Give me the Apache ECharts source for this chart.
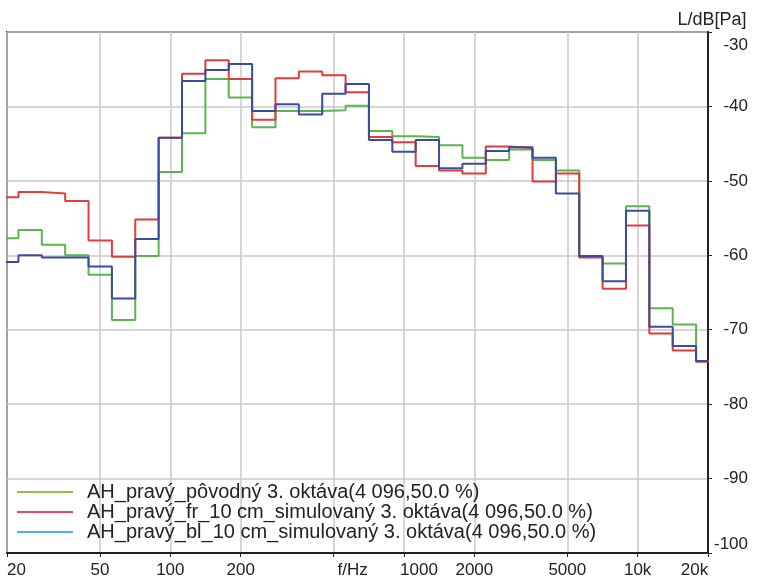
<!DOCTYPE html>
<html><head><meta charset="utf-8">
<script src="https://cdn.jsdelivr.net/npm/echarts@6/dist/echarts.min.js"></script>
<style>html,body{margin:0;padding:0;background:#fff}#c{width:759px;height:579px}</style>
</head><body><div id="c"></div>
<script>
// third-octave band centres (Hz)
const bands = [20,25,31.5,40,50,63,80,100,125,160,200,250,315,400,500,630,800,1000,1250,1600,2000,2500,3150,4000,5000,6300,8000,10000,12500,16000,20000];
const seriesNames = [
  'AH_pravý_pôvodný 3. oktáva(4 096,50.0 %)',
  'AH_pravý_fr_10 cm_simulovaný 3. oktáva(4 096,50.0 %)',
  'AH_pravý_bl_10 cm_simulovaný 3. oktáva(4 096,50.0 %)'
];
const povodny = [-57.7,-56.6,-58.6,-60.0,-62.6,-68.7,-60.1,-48.8,-43.6,-36.3,-38.8,-42.8,-40.6,-40.6,-40.5,-39.9,-43.3,-44.0,-44.1,-45.2,-46.9,-47.2,-45.8,-47.2,-48.6,-60.2,-61.1,-53.4,-67.1,-69.3,-74.2];
const frSim   = [-52.2,-51.5,-51.7,-52.7,-58.0,-60.2,-55.2,-44.2,-35.6,-33.8,-36.3,-41.8,-36.2,-35.3,-35.8,-38.1,-44.1,-44.8,-48.0,-48.6,-49.0,-45.4,-45.6,-50.1,-49.0,-60.3,-64.5,-56.0,-70.5,-72.8,-74.3];
const blSim   = [-60.9,-60.0,-60.3,-60.3,-61.5,-65.8,-57.8,-44.2,-36.6,-35.1,-34.3,-40.6,-39.7,-41.1,-38.3,-37.0,-44.5,-46.1,-44.5,-48.3,-47.7,-46.0,-45.5,-46.9,-51.7,-60.1,-63.5,-54.0,-69.6,-72.2,-74.2];
const xTickValues = [20,50,100,200,500,1000,2000,5000,10000,20000];
const xTickLabels = ['20','50','100','200','f/Hz','1000','2000','5000','10k','20k'];
const yMin = -100, yMax = -30, yStep = 10;

const lineColors = ['#5cb44c','#e23b3b','#3a4c9e'];
const legendColors = ['#8cc43e','#e24c5c','#4ab4dc'];

function stepData(vals){
  const pts = [];
  bands.forEach((f,i)=>{
    const c = Math.round(Math.log10(f)*10)/10;
    pts.push([c-0.05, vals[i]]);
  });
  const lastC = Math.round(Math.log10(bands[bands.length-1])*10)/10;
  pts.push([lastC+0.05, vals[vals.length-1]]);
  return pts;
}
const xLogTicks = xTickValues.map(v=>Math.log10(v));
const FONT = "'Liberation Sans', Arial, sans-serif";
const TXT = '#222';

const chart = echarts.init(document.getElementById('c'), null, {renderer:'canvas'});
chart.setOption({
  animation:false,
  backgroundColor:'#fff',
  textStyle:{fontFamily:FONT},
  grid:{left:7, right:51, top:32, bottom:23, show:true, borderColor:'#333', borderWidth:2, backgroundColor:'transparent'},
  xAxis:{
    type:'value', min:Math.log10(20), max:Math.log10(20000),
    axisLine:{show:true, onZero:false, lineStyle:{color:'#222', width:2}},
    axisTick:{show:true, customValues:xLogTicks, length:4, lineStyle:{color:'#222'}},
    axisLabel:{
      customValues:xLogTicks, fontSize:17, color:TXT, margin:9, fontFamily:FONT,
      formatter:(v)=>{
        let idx = 0, best = 1e9;
        xLogTicks.forEach((t,i)=>{ const d=Math.abs(t-v); if(d<best){best=d; idx=i;} });
        const s = xTickLabels[idx];
        if(idx===0) return '{l|'+s+'}';
        if(s==='f/Hz') return '{f|'+s+'}';
        if(s==='1000') return '{k|'+s+'}';
        if(idx===xTickLabels.length-1) return '{r|'+s+'}';
        return s;
      },
      rich:{
        l:{fontSize:17, color:TXT, fontFamily:FONT, padding:[0,0,0,19]},
        f:{fontSize:17, color:TXT, fontFamily:FONT, padding:[0,0,0,38]},
        k:{fontSize:17, color:TXT, fontFamily:FONT, padding:[0,0,0,30]},
        r:{fontSize:17, color:TXT, fontFamily:FONT, padding:[0,27,0,0]}
      }
    },
    splitLine:{show:true, lineStyle:{color:'#c8c8c8', width:1.5}}
  },
  yAxis:{
    type:'value', position:'right', min:yMin, max:yMax, interval:yStep,
    name:'L/dB[Pa]', nameLocation:'end', nameGap:3,
    nameTextStyle:{fontSize:18, color:TXT, fontFamily:FONT, align:'center', padding:[0,0,0,8]},
    axisLine:{show:true, lineStyle:{color:'#222', width:2}},
    axisTick:{show:true, length:4, lineStyle:{color:'#222'}},
    axisLabel:{
      fontSize:17, color:TXT, align:'right', margin:40, fontFamily:FONT,
      formatter:(v)=>{
        if(v===yMax) return '{t|'+v+'}';
        if(v===yMin) return '{b|'+v+'}';
        return String(v);
      },
      rich:{
        t:{fontSize:17, color:TXT, fontFamily:FONT, padding:[26,0,0,0]},
        b:{fontSize:17, color:TXT, fontFamily:FONT, padding:[0,0,18,0]}
      }
    },
    splitLine:{show:true, lineStyle:{color:'#c8c8c8', width:1.5}}
  },
  legend:{
    orient:'vertical', left:17, top:482, itemGap:0, itemWidth:56, itemHeight:2,
    icon:'rect', padding:0, selectedMode:false,
    textStyle:{fontSize:20, color:TXT, fontFamily:FONT, lineHeight:19, padding:[0,0,0,9]},
    data:seriesNames.map((n,i)=>({name:n, itemStyle:{color:legendColors[i]}}))
  },
  series:[povodny, frSim, blSim].map((vals,i)=>({
    name:seriesNames[i], type:'line', step:'end', showSymbol:false, symbol:'none',
    data:stepData(vals), lineStyle:{color:lineColors[i], width:2}, itemStyle:{color:lineColors[i]},
    z:2+i
  }))
});
</script></body></html>
